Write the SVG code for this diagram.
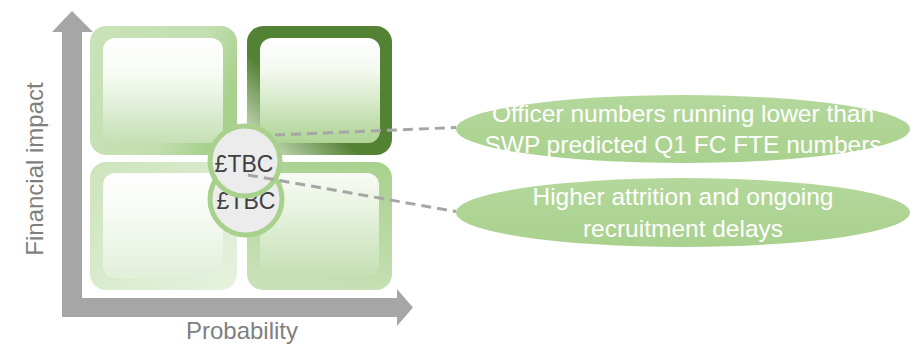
<svg xmlns="http://www.w3.org/2000/svg" width="910" height="348" viewBox="0 0 910 348">
  <defs>
    <linearGradient id="gTLo" x1="0" y1="0" x2="1" y2="0.4">
      <stop offset="0" stop-color="#c9e3b8"/>
      <stop offset="0.7" stop-color="#c3dfb1"/>
      <stop offset="1" stop-color="#a9d18e"/>
    </linearGradient>
    <linearGradient id="gTRo" x1="0.95" y1="0.05" x2="0.05" y2="0.95">
      <stop offset="0" stop-color="#548235"/>
      <stop offset="0.62" stop-color="#548235"/>
      <stop offset="1" stop-color="#d3e3c8"/>
    </linearGradient>
    <linearGradient id="gBLo" x1="0" y1="0" x2="1" y2="1">
      <stop offset="0" stop-color="#cce4bc"/>
      <stop offset="1" stop-color="#e6f2de"/>
    </linearGradient>
    <linearGradient id="gBRo" x1="0.8" y1="0" x2="0.6" y2="1">
      <stop offset="0" stop-color="#a9d18e"/>
      <stop offset="1" stop-color="#c7e1b6"/>
    </linearGradient>
    <linearGradient id="gTLi" x1="0" y1="0" x2="0" y2="1">
      <stop offset="0" stop-color="#ffffff"/>
      <stop offset="0.35" stop-color="#f7fbf4"/>
      <stop offset="1" stop-color="#c5e0b4"/>
    </linearGradient>
    <linearGradient id="gTRi" x1="0" y1="0" x2="0" y2="1">
      <stop offset="0" stop-color="#ffffff"/>
      <stop offset="0.3" stop-color="#f4f9f0"/>
      <stop offset="1" stop-color="#aed495"/>
    </linearGradient>
    <linearGradient id="gBLi" x1="0" y1="0" x2="0" y2="1">
      <stop offset="0" stop-color="#ffffff"/>
      <stop offset="0.4" stop-color="#f6faf3"/>
      <stop offset="1" stop-color="#e2efda"/>
    </linearGradient>
    <linearGradient id="gBRi" x1="0" y1="0" x2="0" y2="1">
      <stop offset="0" stop-color="#f8fbf5"/>
      <stop offset="0.3" stop-color="#eaf4e3"/>
      <stop offset="1" stop-color="#c5e0b4"/>
    </linearGradient>
    <linearGradient id="gEl" x1="0" y1="0" x2="0" y2="1">
      <stop offset="0" stop-color="#b4d89c"/>
      <stop offset="1" stop-color="#a9d18e"/>
    </linearGradient>
  </defs>
  <style>
    .axis { fill: #a6a6a6; }
    .axlabel { font-family: "Liberation Sans", Arial, sans-serif; font-size: 24px; fill: #7f7f7f; text-anchor: middle; }
    .circ { fill: #ececec; stroke: #a9d18e; stroke-width: 5; }
    .ctext { font-family: "Liberation Sans", Arial, sans-serif; font-size: 23px; fill: #404040; text-anchor: middle; }
    .ell { fill: url(#gEl); }
    .etext { font-family: "Liberation Sans", Arial, sans-serif; font-size: 24.5px; fill: #ffffff; text-anchor: middle; }
    .dash { fill: none; stroke: #a6a6a6; stroke-width: 3; stroke-dasharray: 10 6; }
  </style>

  <g id="axes">
    <path class="axis" d="M62,317 L62,32 L52,32 L72,11 L93,32 L82,32 L82,298 L397,298 L397,289 L413,307.5 L397,326 L397,317 Z"/>
    <text class="axlabel" transform="translate(43,169) rotate(-90)">Financial impact</text>
    <text class="axlabel" x="242" y="339">Probability</text>
  </g>

  <g id="quad-tl">
    <rect x="90" y="26" width="147" height="129" rx="16" fill="url(#gTLo)"/>
    <rect x="103" y="38" width="120" height="105" rx="12" fill="url(#gTLi)"/>
  </g>
  <g id="quad-tr">
    <rect x="247" y="26" width="145" height="129" rx="16" fill="url(#gTRo)"/>
    <rect x="260" y="38" width="120" height="105" rx="12" fill="url(#gTRi)"/>
  </g>
  <g id="quad-bl">
    <rect x="90" y="162" width="147" height="128" rx="16" fill="url(#gBLo)"/>
    <rect x="103" y="173" width="120" height="105" rx="12" fill="url(#gBLi)"/>
  </g>
  <g id="quad-br">
    <rect x="247" y="162" width="145" height="128" rx="16" fill="url(#gBRo)"/>
    <rect x="260" y="173" width="119" height="103" rx="12" fill="url(#gBRi)"/>
  </g>

  <g id="risk-2">
    <circle class="circ" cx="246" cy="199" r="36"/>
    <text class="ctext" x="246" y="209">£TBC</text>
  </g>
  <g id="risk-1">
    <circle class="circ" cx="245" cy="161" r="35"/>
    <text class="ctext" x="244" y="172">£TBC</text>
  </g>

  <g id="label-1">
    <ellipse class="ell" cx="683" cy="129" rx="227" ry="34"/>
    <text class="etext" x="683" y="122">Officer numbers running lower than</text>
    <text class="etext" x="683" y="153">SWP predicted Q1 FC FTE numbers</text>
  </g>
  <g id="label-2">
    <ellipse class="ell" cx="683" cy="212.5" rx="227" ry="34.5"/>
    <text class="etext" x="683" y="205">Higher attrition and ongoing</text>
    <text class="etext" x="683" y="237">recruitment delays</text>
  </g>

  <g id="connectors">
    <line class="dash" x1="275" y1="135" x2="456" y2="127.5"/>
    <line class="dash" x1="248" y1="175" x2="456" y2="211.5"/>
  </g>
</svg>
